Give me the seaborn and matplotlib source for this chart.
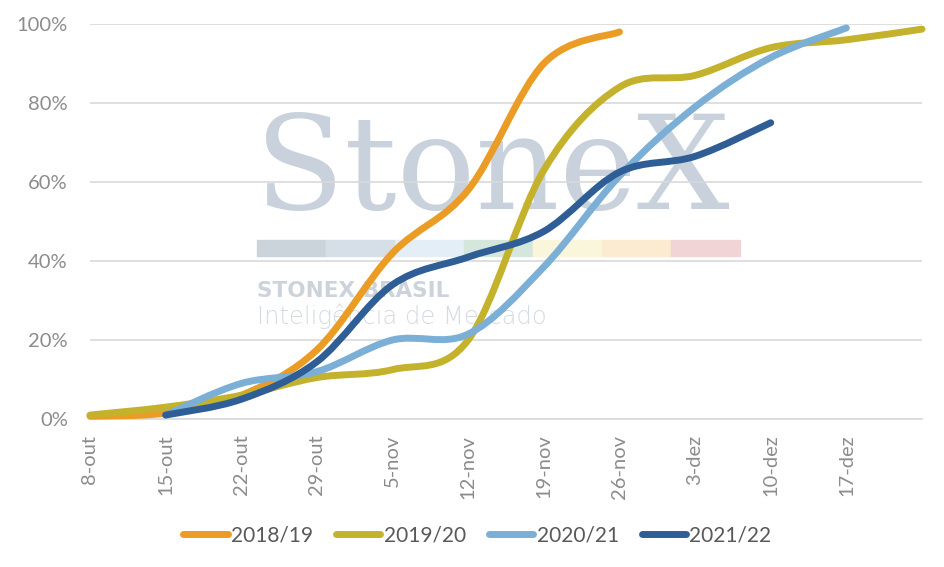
import numpy as np
import pandas as pd
import seaborn as sns
import matplotlib.pyplot as plt
from matplotlib.path import Path
from matplotlib.patches import PathPatch, Rectangle
from matplotlib.ticker import PercentFormatter

# weekly categories (last one has no label on the original axis)
weeks = ['8-out', '15-out', '22-out', '29-out', '5-nov', '12-nov', '19-nov',
         '26-nov', '3-dez', '10-dez', '17-dez', '24-dez']
tick_labels = ['8-out', '15-out', '22-out', '29-out', '5-nov', '12-nov', '19-nov',
               '26-nov', '3-dez', '10-dez', '17-dez', '']

seasons = ['2018/19', '2019/20', '2020/21', '2021/22']
s1819 = [0.7, 1.5, 6, 17.5, 42, 58, 90, 98, None, None, None, None]
s1920 = [1, 3, 6, 10.5, 12.5, 20, 63, 84, 87, 94, 96, 98.7]
s2021 = [None, 1, 9, 12, 20, 21.5, 38.5, 61.5, 79, 91.5, 99, None]
s2122 = [None, 1, 5, 14.5, 34, 41, 47.5, 62.5, 66.5, 75, None, None]
colors = ['#EA9C25', '#C4B22C', '#7BAFD6', '#2F5D95']

rows = []
for name, vals in zip(seasons, [s1819, s1920, s2021, s2122]):
    for i, v in enumerate(vals):
        if v is not None:
            rows.append((i, v / 100, name))
df = pd.DataFrame(rows, columns=['pos', 'share', 'season'])


def smooth_path(xy):
    # Excel-style smoothed line: cubic bezier through the weekly points
    n = len(xy)
    verts = [xy[0]]
    codes = [Path.MOVETO]
    for i in range(n - 1):
        p0, p1 = xy[max(i - 1, 0)], xy[i]
        p2, p3 = xy[i + 1], xy[min(i + 2, n - 1)]
        verts += [p1 + (p2 - p0) / 6, p2 - (p3 - p1) / 6, p2]
        codes += [Path.CURVE4] * 3
    return Path(verts, codes)


sns.set_style('white')
plt.rcParams['font.family'] = ['Lato', 'DejaVu Sans']

fig = plt.figure(figsize=(9.45, 5.67), dpi=100)
ax = fig.add_axes([90 / 945, 1 - 419 / 567, 832 / 945, 395 / 567])
ax.set_facecolor('none')

# watermark behind the chart
fig.text(255 / 945, 1 - 209 / 567, 'StoneX', family='DejaVu Serif', fontsize=94,
         color='#c9d2dc', zorder=-2, va='baseline')
bar_cols = ['#cbd3db', '#d6dee8', '#e3eef6', '#d5e6dc', '#faf6dc', '#fdebd1', '#f0d4d6']
for k, c in enumerate(bar_cols):
    fig.patches.append(Rectangle(((257 + 69 * k) / 945, 1 - 256 / 567), 69 / 945, 16 / 567,
                                 transform=fig.transFigure, color=c, zorder=-2))
fig.text(257 / 945, 1 - 297 / 567, 'STONEX BRASIL', family='DejaVu Sans', weight='bold',
         fontsize=15.5, color='#ccd3db', zorder=-2, va='baseline')
fig.text(257 / 945, 1 - 324 / 567, 'Inteligência de Mercado', family='DejaVu Sans',
         weight='light', fontsize=17.5, color='#d5dbe2', zorder=-2, va='baseline')

sns.lineplot(data=df, x='pos', y='share', hue='season', palette=colors,
             linewidth=5, ax=ax)

for line in list(ax.lines):
    xy = np.asarray(line.get_xydata())
    if len(xy) < 2:
        continue
    ax.add_patch(PathPatch(smooth_path(xy), fill=False, edgecolor=line.get_color(),
                           lw=5, capstyle='round', joinstyle='round',
                           clip_on=False, zorder=3))
    line.set_visible(False)

leg = ax.get_legend()
handles = leg.legend_handles
labels = [t.get_text() for t in leg.texts]
leg.remove()
newleg = fig.legend(handles, labels, loc='center', bbox_to_anchor=(0.505, 1 - 535 / 567),
                    ncol=4, frameon=False, fontsize=15, handlelength=2.15,
                    handletextpad=0.15, columnspacing=1.1, labelcolor='#595959')
for h in newleg.legend_handles:
    h.set_linewidth(5)
    h.set_solid_capstyle('round')

ax.set_xlim(0, len(weeks) - 1)
ax.set_ylim(0, 1)
ax.set_xticks(range(len(weeks)))
ax.set_xticklabels(tick_labels, rotation=90)
ax.set_yticks(np.arange(0, 1.01, 0.2))
ax.yaxis.set_major_formatter(PercentFormatter(1, decimals=0))
ax.set_xlabel('')
ax.set_ylabel('')

ax.grid(axis='y', color='#d9d9d9', lw=1.2)
ax.set_axisbelow(True)
for side in ['top', 'right', 'left']:
    ax.spines[side].set_visible(False)
ax.spines['bottom'].set_color('#d9d9d9')
ax.spines['bottom'].set_linewidth(1.2)

ax.tick_params(axis='x', length=4.3, width=1, color='#d9d9d9', pad=7,
               labelsize=14.5, labelcolor='#8c8c8c')
ax.tick_params(axis='y', length=0, pad=16, labelsize=14.5, labelcolor='#8c8c8c')

fig.savefig('out.png', dpi=100)
